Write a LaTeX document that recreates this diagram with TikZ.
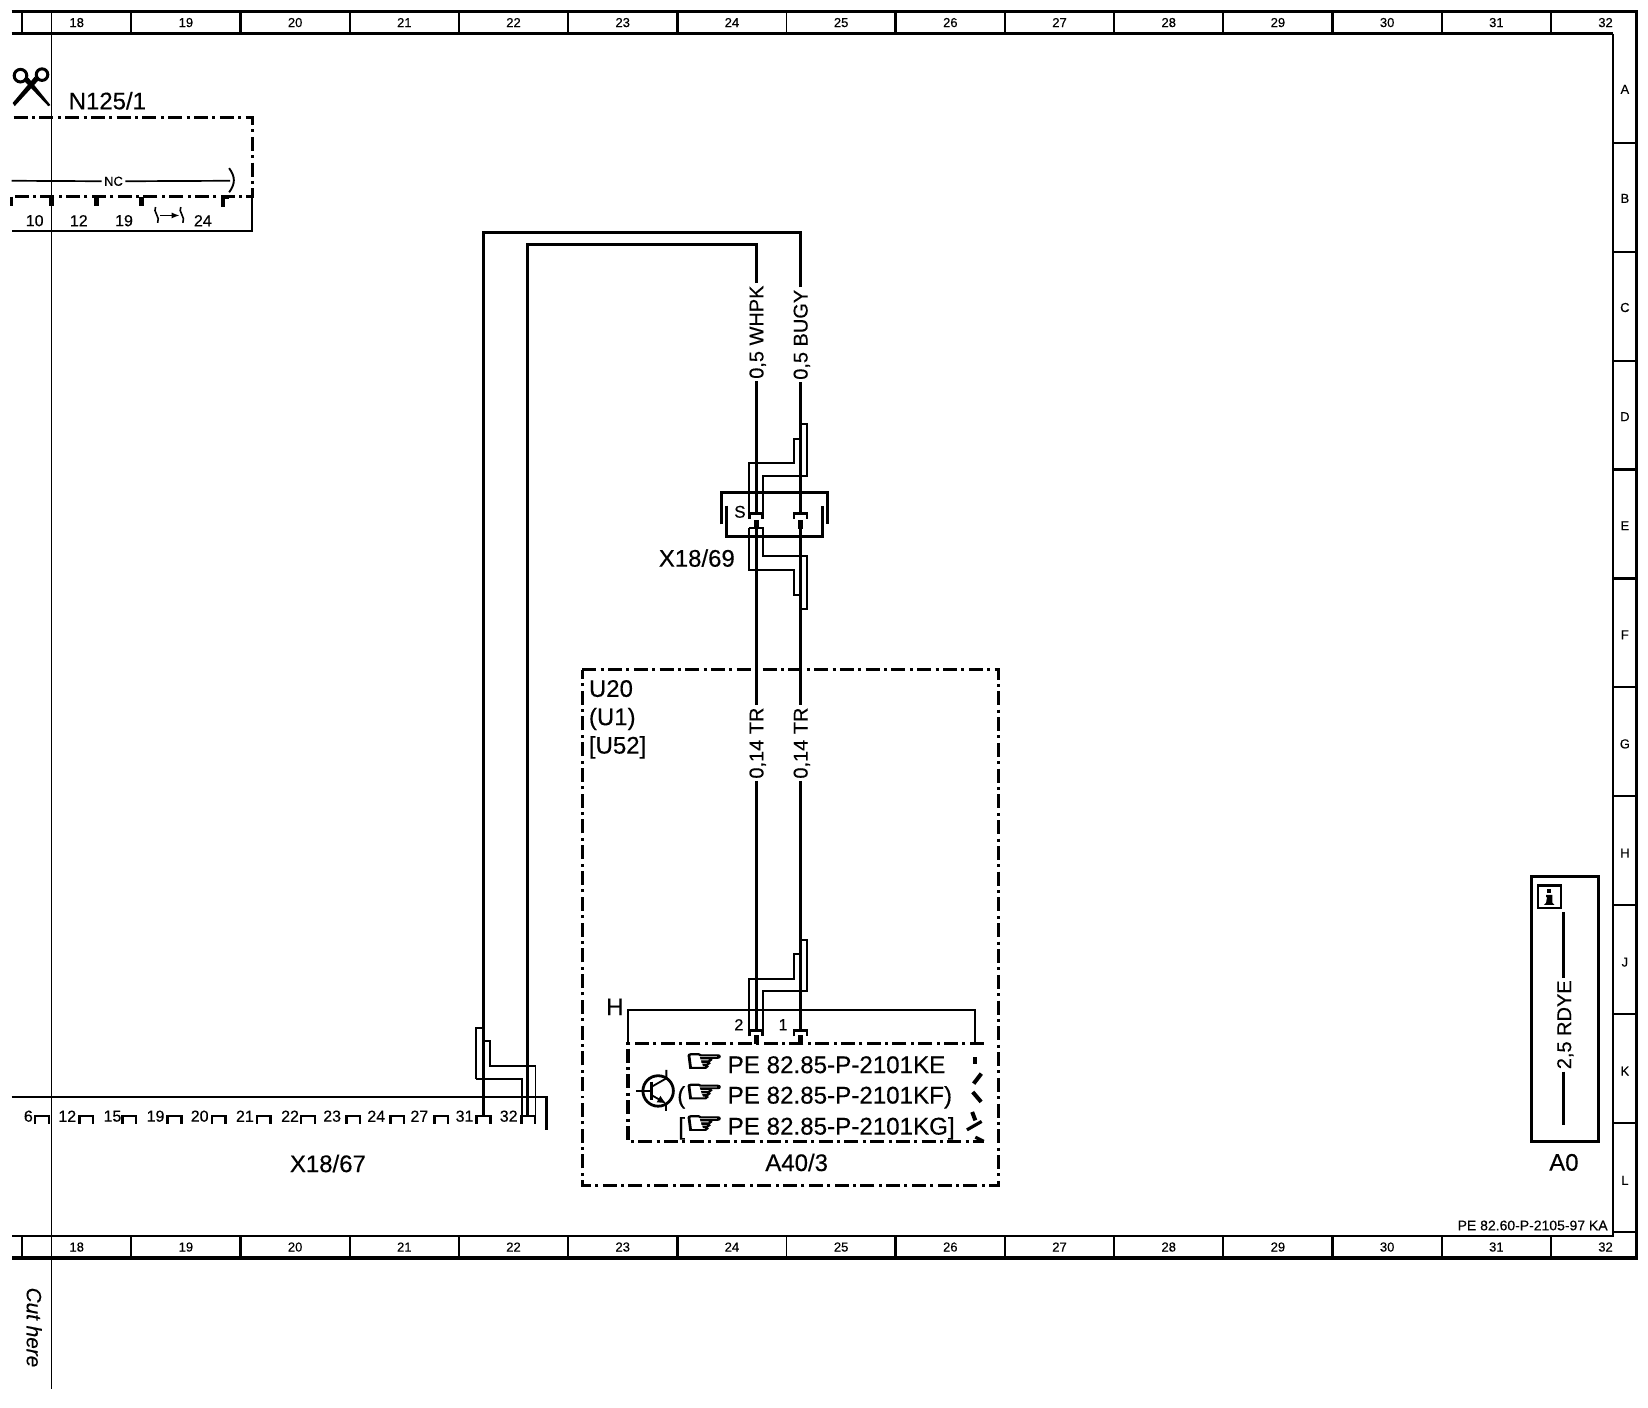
\documentclass[tikz,border=0pt]{standalone}
\usepackage{fontspec}
\setmainfont[FakeBold=0.35]{Liberation Sans}
\newfontfamily\symfont[FakeBold=4.5]{DejaVu Sans}
\usetikzlibrary{arrows.meta}
\tikzset{
  wire/.style={line width=1.5pt},
  shield/.style={line width=1pt},
  frameb/.style={line width=1.7pt},
  framet/.style={line width=1.1pt},
  ddot/.style={line width=1.6pt,dash pattern=on 7pt off 2.2pt on 1.5pt off 2.2pt},
  stub/.style={line width=2.4pt},
  lab/.style={inner sep=0pt,font=\fontsize{12}{12}\selectfont},
  reflab/.style={inner sep=0pt,font=\fontsize{12.1}{12}\selectfont},
  pinlab/.style={inner sep=0pt,font=\fontsize{8}{8}\selectfont},
  gridlab/.style={inner sep=0pt,font=\fontsize{6.5}{7}\selectfont},
  wirelab/.style={inner sep=1pt,rotate=90,text height=7.2pt,text depth=0pt,font=\fontsize{10}{10}\selectfont},
  hand/.style={inner sep=0pt,font=\symfont\fontsize{18}{18}\selectfont,xscale=1.2,yscale=0.85}
}
\begin{document}
\begin{tikzpicture}[x=0.5262pt,y=-0.5262pt,line join=miter]
\useasboundingbox[fill=white] (0,0) rectangle (1568,1339.6);
% frame
\draw[frameb] (11,11) -- (1557,11) -- (1557,1197) -- (11,1197);
\draw[line width=1.5pt] (11,32) -- (1535,32);
\draw[framet] (1535,32) -- (1535,1176) -- (11,1176);
\foreach \i in {0,...,14}{
  \pgfmathtruncatemacro{\n}{18+\i}
  \pgfmathsetmacro{\tw}{ifthenelse(mod(\i,2)==0,1.35,0.9)}
  \draw[line width=\tw pt] (21+103.9*\i,11) -- (21+103.9*\i,32);
  \draw[line width=\tw pt] (21+103.9*\i,1176) -- (21+103.9*\i,1197);
  \node[gridlab] (top\n) at (73+103.9*\i,21.5) {\n};
  \node[gridlab] (bot\n) at (73+103.9*\i,1186.5) {\n};
}
\foreach \i/\l in {0/A,1/B,2/C,3/D,4/E,5/F,6/G,7/H,8/J,9/K,10/L}{
  \node[gridlab] (row\l) at (1546,85+103.8*\i) {\l};
  \draw[line width=1.1pt] (1535,136+103.6*\i) -- (1557,136+103.6*\i);
}
% cut line
\draw[line width=0.8pt] (49,11) -- (49,1322);
\node[inner sep=0pt,rotate=-90,font=\fontsize{10.4}{11}\selectfont\itshape] (cut) at (32.5,1263) {Cut here};
% scissors
\draw[line width=1.5pt] (19.5,72) circle (6);
\draw[line width=1.5pt] (40,71) circle (5.5);
\fill (23,77) -- (27,74) -- (48,100) -- (46,101) -- cycle;
\fill (37,76) -- (33,73) -- (12,98) -- (14,101) -- cycle;
% N125/1
\node[lab,anchor=base west] (n125) at (65,104) {N125/1};
\draw[ddot] (13,112) -- (240,112) -- (240,187) -- (11,187);
\draw[framet] (240,187) -- (240,220) -- (11,220);
\node[inner sep=1pt,font=\fontsize{6.5}{7}\selectfont] (nc) at (108,172.5) {NC};
\coordinate (ncl) at (11,172);
\coordinate (ncr) at (219,172);
\draw[line width=0.85pt] (ncl) -- (nc);
\draw[line width=0.85pt] (nc) -- (ncr);
\draw[line width=0.95pt] (218,160) .. controls (224,168) and (224,175) .. (218,183);
\foreach \x in {49,92,135}{\draw[stub] (\x,187) -- (\x,196);}
\draw[line width=2pt] (218,187) -- (212,187) -- (212,197);
\draw[framet] (11,187) -- (11,196);
\foreach \x/\l in {33/10,75/12,118/19,193/24}{\node[pinlab] (np\l) at (\x,210) {\l};}
\draw[line width=0.8pt] (148,197) .. controls (145,201) and (153,207) .. (150,212);
\draw[line width=0.8pt] (172,197) .. controls (169,201) and (177,207) .. (174,212);
\draw[line width=0.8pt,-{Latex[length=4pt,width=3pt]}] (152,205) -- (171,205);
% long wires
\node[wirelab] (whpk) at (719.5,316) {0,5 WHPK};
\node[wirelab] (bugy) at (761.5,318.5) {0,5 BUGY};
\coordinate (p31) at (460,1061);
\coordinate (p32) at (501.7,1061);
\draw[wire] (bugy.east) -- (761.5,221) -- (460,221) -- (p31);
\draw[wire] (whpk.east) -- (719.5,233) -- (501.7,233) -- (p32);
% X18/69
\coordinate (s2t) at (719.5,488);
\coordinate (s1t) at (761.5,488);
\coordinate (s2b) at (719.5,502);
\coordinate (s1b) at (761.5,502);
\draw[wire] (whpk.west) -- (s2t);
\draw[wire] (bugy.west) -- (s1t);
\draw[shield] (713,488) -- (713,440.3) -- (755,440.3) -- (755,417.5) -- (761.5,417.5);
\draw[shield] (725.8,488) -- (725.8,452.9) -- (767.8,452.9) -- (767.8,403.5) -- (761.5,403.5);
\draw[shield] (713,502) -- (725.8,502) -- (725.8,529) -- (767.8,529) -- (767.8,579.6) -- (761.5,579.6);
\draw[shield] (713,502) -- (713,542.6) -- (755,542.6) -- (755,566) -- (761.5,566);
\draw[wire] (686,499) -- (686,468.8) -- (787,468.8) -- (787,499);
\draw[wire] (691,481) -- (691,510) -- (782.5,510) -- (782.5,481);
\node[inner sep=0pt,font=\fontsize{8.5}{9}\selectfont] (ss) at (704,487) {S};
\foreach \x in {719.5,761.5}{
  \draw[line width=1.3pt] (\x-6.2,494) -- (\x-6.2,488.4) -- (\x+6.2,488.4) -- (\x+6.2,494);
  \draw[stub] (\x,495) -- (\x,503);
}
\node[lab] (x69) at (663,531) {X18/69};
% U20
\draw[ddot] (554,637) -- (950,637) -- (950,1128) -- (554,1128) -- cycle;
\node[lab,anchor=base west] (u20) at (560,663) {U20};
\node[lab,anchor=base west] (u1) at (560,690) {(U1)};
\node[lab,anchor=base west] (u52) at (560,717) {[U52]};
\node[wirelab] (tr2) at (719.5,707) {0,14 TR};
\node[wirelab] (tr1) at (761.5,707) {0,14 TR};
\coordinate (a2) at (719.5,980);
\coordinate (a1) at (761.5,980);
\draw[wire] (s2b) -- (tr2.east);
\draw[wire] (s1b) -- (tr1.east);
\draw[wire] (tr2.west) -- (a2);
\draw[wire] (tr1.west) -- (a1);
% A40/3 twist
\draw[shield] (713,980) -- (713,931) -- (755.3,931) -- (755.3,907.5) -- (761.5,907.5);
\draw[shield] (725.8,980) -- (725.8,943) -- (768,943) -- (768,894) -- (761.5,894);
\draw[line width=1pt] (597.5,993) -- (597.5,961) -- (928,961) -- (928,993);
\node[lab] (hh) at (585,958) {H};
\node[pinlab] (pin2) at (703,975) {2};
\node[pinlab] (pin1) at (745,975) {1};
\foreach \x in {719.5,761.5}{
  \draw[line width=1.3pt] (\x-6.2,986) -- (\x-6.2,980.5) -- (\x+6.2,980.5) -- (\x+6.2,986);
  \draw[stub] (\x,985) -- (\x,993);
}
\draw[ddot] (936,993) -- (597.5,993) -- (597.5,1086) -- (936,1086);
% break
\draw[line width=2pt] (928,1006) -- (928,1012);
\draw[line width=2pt] (933.7,1021.5) -- (926.4,1031);
\draw[line width=2pt] (925.5,1039) -- (933.5,1048.4);
\draw[line width=2pt] (925,1058) -- (928,1066);
\draw[line width=1.6pt] (934,1067) -- (920,1075);
\draw[line width=1.6pt] (928,1082) -- (936,1086);
\draw[line width=0.6pt] (926,994) -- (930,994);
% transistor
\draw[line width=1.4pt] (626.2,1038) circle (14.5);
\draw[line width=1pt] (605,1038) -- (620,1038);
\draw[line width=1.5pt] (620,1029) -- (620,1047);
\draw[line width=0.9pt] (634,1018) -- (634,1026) -- (620,1034);
\draw[line width=0.9pt,-{Latex[length=4.5pt,width=4pt]}] (620,1042) -- (634,1050);
\draw[line width=0.9pt] (634,1050) -- (634,1057);
% refs
\node[hand] (h1) at (670,1011) {☞};
\node[hand] (h2) at (670,1040) {☞};
\node[hand] (h3) at (670,1070) {☞};
\node[reflab,anchor=base west] (r1) at (692,1021) {PE 82.85-P-2101KE};
\node[reflab,anchor=base west] (r2) at (692,1050) {PE 82.85-P-2101KF)};
\node[reflab,anchor=base west] (r3) at (692,1079.5) {PE 82.85-P-2101KG]};
\node[lab,anchor=base west] (o2) at (644,1050) {(};
\node[lab,anchor=base west] (o3) at (645,1079.5) {[};
\node[lab] (a403) at (758,1106) {A40/3};
% X18/67
\draw[line width=1.05pt] (11,1044) -- (520,1044) -- (520,1075);
\foreach \x/\t/\l in {40/27/6,82/64/12,123/107/15,166/148/19,208/190/20,251/233/21,293/276/22,336/316/23,378/358/24,420/399/27,460/442/31,502.5/484/32}{
  \node[pinlab] (xp\l) at (\t,1062) {\l};
  \draw[line width=1.2pt] (\x-6.5,1069) -- (\x-6.5,1062) -- (\x+6.5,1062) -- (\x+6.5,1069);
}
\draw[shield] (453,1026.3) -- (453,977.8) -- (460,977.8);
\draw[shield] (453,1026.3) -- (496.5,1026.3) -- (496.5,1061);
\draw[shield] (460,990.8) -- (466,990.8) -- (466,1014.6) -- (509.5,1014.6) -- (509.5,1061);
\node[lab] (x67) at (312,1107) {X18/67};
% A0
\draw[frameb] (1457,834) rectangle (1521,1086);
\draw[line width=1.1pt] (1463.5,842.5) rectangle (1485.5,864);
\fill (1472,846) rectangle (1476,850);
\fill (1471,851.5) -- (1477,851.5) -- (1477,859) -- (1479,861) -- (1469,861) -- (1471,859) -- (1472,853.5) -- (1471,853.5) -- cycle;
\coordinate (a0t) at (1488,868);
\coordinate (a0b) at (1488,1070);
\node[wirelab] (rdye) at (1488,975) {2,5 RDYE};
\draw[wire] (a0t) -- (rdye.east);
\draw[wire] (rdye.west) -- (a0b);
\node[lab] (a0) at (1488,1106) {A0};
\node[inner sep=0pt,anchor=east,font=\fontsize{7}{7}\selectfont] (pe) at (1530,1166) {PE 82.60-P-2105-97 KA};
\end{tikzpicture}
\end{document}
